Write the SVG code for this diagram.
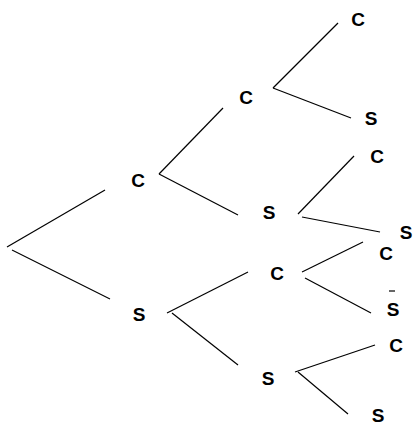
<svg xmlns="http://www.w3.org/2000/svg" width="414" height="427" viewBox="0 0 414 427">
<style>
text{font-family:"Liberation Sans",Arial,sans-serif;font-weight:bold;font-size:19px;text-anchor:middle;fill:#000}
line{stroke:#000;stroke-width:1.2}
</style>
<rect width="414" height="427" fill="#fff"/>
<g id="connectors">
<line x1="105" y1="190" x2="7" y2="247"/>
<line x1="12" y1="250" x2="110" y2="299"/>
<line x1="223" y1="108" x2="159" y2="174"/>
<line x1="159" y1="174" x2="238" y2="215"/>
<line x1="167" y1="313" x2="248" y2="272"/>
<line x1="172" y1="313" x2="238" y2="365"/>
<line x1="338" y1="23" x2="273" y2="88"/>
<line x1="273" y1="88" x2="351" y2="118"/>
<line x1="354" y1="156" x2="298" y2="214"/>
<line x1="302" y1="217" x2="380" y2="232"/>
<line x1="302" y1="272" x2="363" y2="242"/>
<line x1="305" y1="278" x2="371" y2="313"/>
<line x1="295" y1="372" x2="375" y2="345"/>
<line x1="298" y1="372" x2="348" y2="414"/>
</g>
<g id="n1c"><text x="138" y="187">C</text></g>
<g id="n1s"><text x="139" y="321">S</text></g>
<g id="n2cc"><text x="246" y="104">C</text></g>
<g id="n2cs"><text x="269" y="219">S</text></g>
<g id="n2sc"><text x="277" y="280">C</text></g>
<g id="n2ss"><text x="268" y="385">S</text></g>
<g id="n3ccc"><text x="358" y="26">C</text></g>
<g id="n3ccs"><text x="371" y="125">S</text></g>
<g id="n3csc"><text x="377" y="163">C</text></g>
<g id="n3css"><text x="406" y="239">S</text></g>
<g id="n3scc"><text x="386" y="260">C</text></g>
<g id="n3scs"><text x="393" y="316">S</text><line x1="389" y1="291" x2="395" y2="291"/></g>
<g id="n3ssc"><text x="396" y="352">C</text></g>
<g id="n3sss"><text x="378" y="422">S</text></g>
</svg>
